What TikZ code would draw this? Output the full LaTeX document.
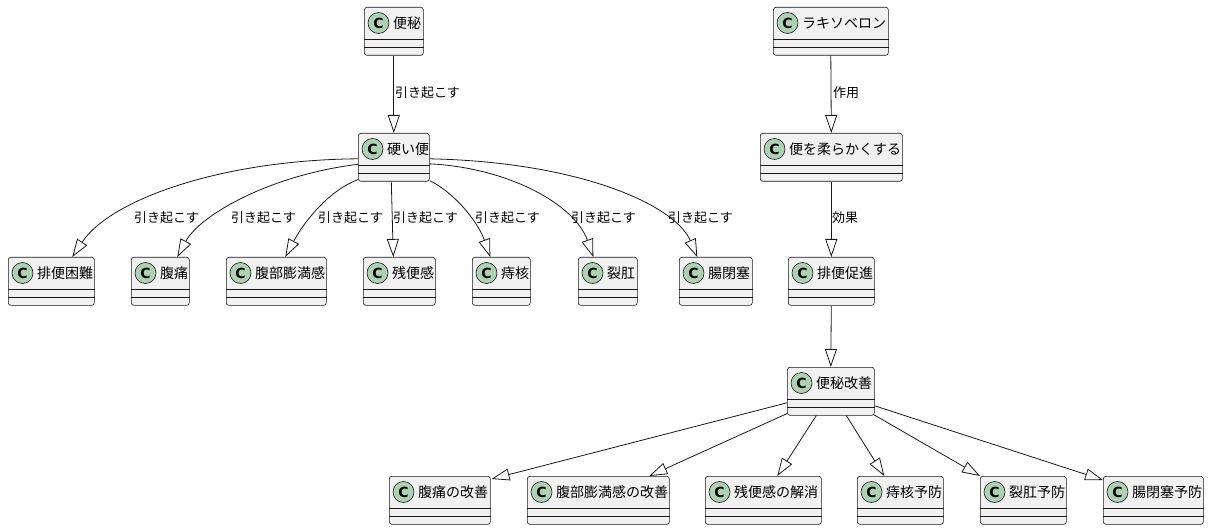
\documentclass[tikz,border=0pt]{standalone}
\usepackage{fontspec}
\setmainfont{Noto Sans CJK JP}
\newfontfamily\cfont{DejaVu Sans}
\usetikzlibrary{arrows.meta}
\definecolor{boxfill}{HTML}{F1F1F1}
\definecolor{boxline}{HTML}{181818}
\definecolor{circfill}{HTML}{ADD1B2}
\tikzset{
 clsbox/.style={draw=boxline, fill=boxfill, line width=0.6pt, rounded corners=2.5pt, minimum height=48pt, inner sep=0pt, anchor=north west},
 clsline/.style={draw=boxline, line width=0.6pt},
 clscirc/.style={circle, draw=boxline, fill=circfill, line width=0.6pt, minimum size=21pt, inner sep=0pt, font=\cfont\bfseries\fontsize{14}{14}\selectfont},
 clstext/.style={anchor=west, inner sep=0pt, font=\fontsize{14}{16}\selectfont},
 lbl/.style={anchor=west, inner sep=0pt, font=\fontsize{13}{15}\selectfont},
 ext/.style={draw=boxline, line width=0.8pt, -{Triangle[length=18pt,width=12pt,fill=white]}},
}
% #1 name, #2 left, #3 top, #4 width, #5 text
\newcommand{\umlcls}[5]{%
 \node[clsbox, minimum width=#4pt] (#1) at (#2,#3) {};
 \draw[clsline] ([yshift=-32pt]#1.north west) -- ([yshift=-32pt]#1.north east);
 \draw[clsline] ([yshift=-40pt]#1.north west) -- ([yshift=-40pt]#1.north east);
 \node[clscirc] (#1c) at ([xshift=14.5pt,yshift=-16pt]#1.north west) {C};
 \node[clstext] (#1t) at ([xshift=29pt,yshift=-16pt]#1.north west) {#5};
}
\begin{document}
\begin{tikzpicture}[x=1pt,y=-1pt]
\useasboundingbox (0,0) rectangle (1209,529);
% top
\umlcls{benpi}{364}{7}{59}{便秘}
\umlcls{laxo}{773}{7}{115}{ラキソベロン}
\umlcls{katai}{358}{133}{71}{硬い便}
\umlcls{yawa}{760}{133}{142}{便を柔らかくする}
% row 3
\umlcls{hk}{8}{257}{86}{排便困難}
\umlcls{ft}{131}{257}{58}{腹痛}
\umlcls{fb}{226}{257}{100}{腹部膨満感}
\umlcls{zb}{363}{257}{72}{残便感}
\umlcls{jk}{472}{257}{58}{痔核}
\umlcls{rk}{578}{257}{59}{裂肛}
\umlcls{cp}{679}{257}{73}{腸閉塞}
\umlcls{hs}{788}{257}{86}{排便促進}
% middle
\umlcls{bk}{787}{367}{87}{便秘改善}
% bottom
\umlcls{k1}{389}{476}{101}{腹痛の改善}
\umlcls{k2}{527}{476}{142}{腹部膨満感の改善}
\umlcls{k3}{705}{476}{116}{残便感の解消}
\umlcls{k4}{857}{476}{86}{痔核予防}
\umlcls{k5}{980}{476}{86}{裂肛予防}
\umlcls{k6}{1103}{476}{100}{腸閉塞予防}

% straight edges
\draw[ext] (benpi.south) -- (katai.north);
\draw[ext] (laxo.south) -- (yawa.north);
\draw[ext] (yawa.south) -- (hs.north);
\draw[ext] (hs.south) -- (bk.north);

% curves from katai
\draw[ext] ([yshift=-1.5pt]katai.west) .. controls (220,160) and (110,200) .. ([xshift=21pt]hk.north);
\draw[ext] ([yshift=-7pt]katai.west) .. controls (270,175) and (200,215) .. ([xshift=17pt]ft.north);
\draw[ext] ([yshift=2pt]katai.south west) .. controls (330,190) and (305,220) .. ([xshift=9pt]fb.north);
\draw[ext] ([xshift=-2.5pt]katai.south) -- ([xshift=-6pt]zb.north);
\draw[ext] ([yshift=1pt]katai.south east) .. controls (455,193) and (478,222) .. ([xshift=-11pt]jk.north);
\draw[ext] ([yshift=-6.5pt]katai.east) .. controls (510,168) and (575,205) .. ([xshift=-14.5pt]rk.north);
\draw[ext] ([yshift=-1.5pt]katai.east) .. controls (580,162) and (675,205) .. ([xshift=-18.5pt]cp.north);

% edges from bk
\draw[ext] ([yshift=-11.5pt]bk.west) -- ([xshift=1pt,yshift=-3pt]k1.north east);
\draw[ext] ([yshift=2pt]bk.south west) -- ([xshift=51pt]k2.north);
\draw[ext] ([xshift=-14.5pt]bk.south) -- ([xshift=14pt]k3.north);
\draw[ext] ([xshift=15.5pt]bk.south) -- ([xshift=-16pt]k4.north);
\draw[ext] ([xshift=-1pt,yshift=1pt]bk.south east) -- (k5.north west);
\draw[ext] ([yshift=-14.5pt]bk.east) -- ([yshift=-4pt]k6.north west);

% labels
\node[lbl] (l0) at (395,93) {引き起こす};
\node[lbl] (l1) at (134,218) {引き起こす};
\node[lbl] (l2) at (231,218) {引き起こす};
\node[lbl] (l3) at (318,218) {引き起こす};
\node[lbl] (l4) at (393,218) {引き起こす};
\node[lbl] (l5) at (475,218) {引き起こす};
\node[lbl] (l6) at (571,218) {引き起こす};
\node[lbl] (l7) at (668,218) {引き起こす};
\node[lbl] (l8) at (833,93) {作用};
\node[lbl] (l9) at (832,218) {効果};
\end{tikzpicture}
\end{document}
